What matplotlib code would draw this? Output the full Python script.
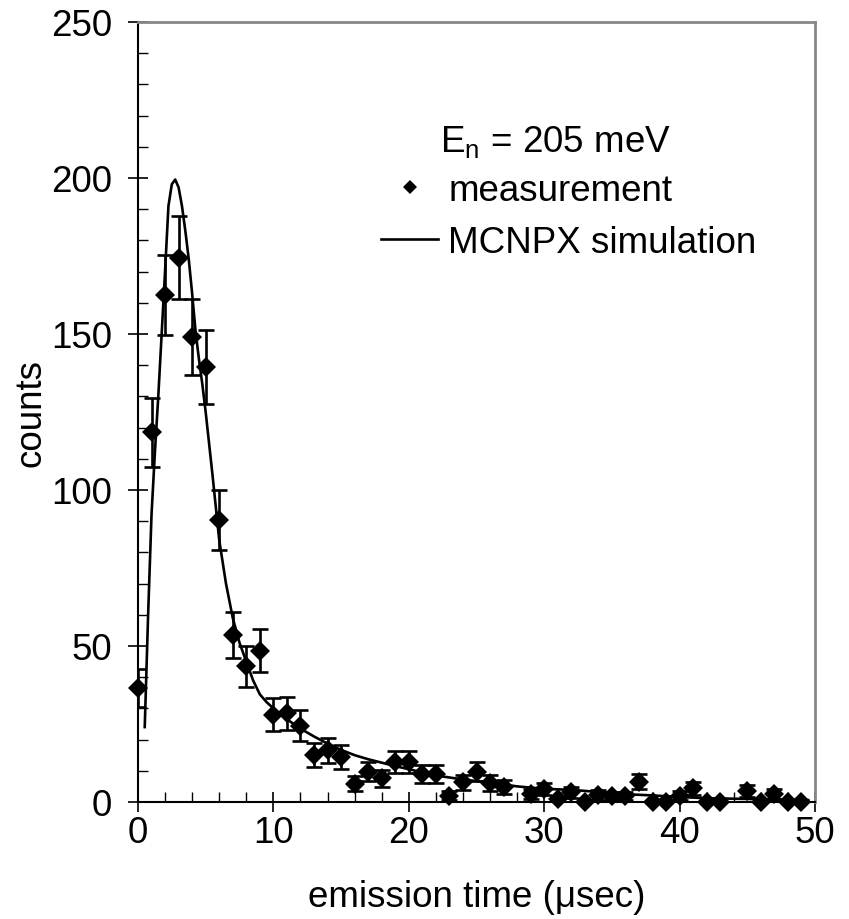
import numpy as np
import matplotlib
matplotlib.use("Agg")
import matplotlib.pyplot as plt
from matplotlib.lines import Line2D
from matplotlib.ticker import MultipleLocator

plt.rcParams['font.family'] = ['Liberation Sans', 'DejaVu Sans']

# measured emission time spectrum (1 usec bins)
meas_time = list(range(50))
meas_counts = [36.5, 118.5, 162.5, 174.5, 149, 139.5, 90.5, 53.5, 43.5, 48.5,
               28, 28.5, 24.5, 15, 16.5, 14.5, 5.8, 9.7, 7.6, 12.9,
               12.9, 9, 9, 2, 6.3, 9.7, 6.1, 4.7, -1, 2.6,
               4.2, 1, 3.1, 0, 2.2, 1.8, 1.8, 6.5, 0, 0,
               2, 4.4, 0, 0, -1, 3.6, 0, 2.6, 0, 0]
meas_err = [6, 11, 12.7, 13.2, 12.2, 11.8, 9.6, 7.3, 6.6, 7,
            5.2, 5.3, 5, 3.8, 4, 3.8, 2.4, 3.1, 2.8, 3.5,
            3.5, 3, 3, 1.4, 2.5, 3.1, 2.5, 2.2, 1, 1.6,
            2, 1, 1.8, 0, 1.5, 1.3, 1.3, 2.5, 0, 0,
            1.4, 2.1, 0, 0, 1, 1.9, 0, 1.6, 0, 0]

# MCNPX simulation
sim_time = [0.5, 0.75, 1.0, 1.25, 1.5, 1.75, 2.0, 2.25, 2.5, 2.75, 3.0, 3.25,
            3.5, 3.75, 4.0, 4.25, 4.5, 4.75, 5.0, 5.5, 6.0, 6.5, 7.0, 7.5,
            8.0, 8.5, 9.0, 9.5, 10, 11, 12, 13, 14, 15, 16, 17, 18, 19, 20,
            22, 24, 26, 28, 30, 32, 34, 36, 38, 40, 42, 44, 46, 48, 49.5]
sim_counts = [24, 60, 92, 112, 130, 150, 170, 191, 198, 199.5, 197, 191,
              183, 174, 163, 151, 142, 134, 125, 105, 84, 70, 59, 51,
              45, 39, 34.5, 32, 30, 26.5, 23.5, 21, 18.7, 16.7, 15, 13.7, 12.6, 11.5, 10.5,
              8.5, 7.2, 6.2, 5, 4.2, 3.9, 3.2, 2.5, 2.1, 1.6, 1.2, 1.05, 0.9, 0.7, 0.6]

FS = 26.5

fig = plt.figure(figsize=(8.49, 9.2), dpi=100)
ax = fig.add_axes([0.1625, 0.1272, 0.7975, 0.8478])

ax.plot(sim_time, sim_counts, color='black', lw=1.9, zorder=2)

t = np.array(meas_time)
c = np.array(meas_counts)
e = np.array(meas_err)
ax.errorbar(t, c, yerr=e, fmt='none', ecolor='black', elinewidth=1.9,
            capsize=5.5, capthick=1.9, zorder=3)
shown = c >= 0
ax.plot(t[shown], c[shown], 'D', color='black', ms=10, mew=0,
        clip_on=False, zorder=4)

ax.set_xlim(0, 50)
ax.set_ylim(0, 250)
ax.xaxis.set_major_locator(MultipleLocator(10))
ax.xaxis.set_minor_locator(MultipleLocator(2))
ax.yaxis.set_major_locator(MultipleLocator(50))
ax.yaxis.set_minor_locator(MultipleLocator(10))
ax.tick_params(which='major', direction='inout', length=15, width=1.2,
               labelsize=FS)
ax.tick_params(which='minor', direction='in', length=7, width=1.0)
ax.tick_params(axis='x', which='major', pad=2)
ax.tick_params(axis='y', which='major', pad=11)

for s in ['left', 'bottom']:
    ax.spines[s].set_color('black')
    ax.spines[s].set_linewidth(1.5)
for s in ['top', 'right']:
    ax.spines[s].set_color('#888888')
    ax.spines[s].set_linewidth(2)

ax.set_xlabel('emission time (\u03bcsec)', fontsize=FS, labelpad=21)
ax.set_ylabel('counts', fontsize=FS, labelpad=2)

ax.text(0.446, 0.846, 'E$_\\mathregular{n}$ = 205 meV', transform=ax.transAxes,
        fontsize=FS, va='center', ha='left')

handles = [Line2D([], [], ls='none', marker='D', color='black', ms=10, mew=0),
           Line2D([], [], color='black', lw=1.9)]
ax.legend(handles, ['measurement', 'MCNPX simulation'], loc='upper left',
          bbox_to_anchor=(0.359, 0.806), frameon=False, fontsize=FS,
          handlelength=1.55, handletextpad=0.28, labelspacing=0.45,
          borderpad=0, borderaxespad=0, markerscale=0.75)

fig.savefig('out.png', dpi=100)
